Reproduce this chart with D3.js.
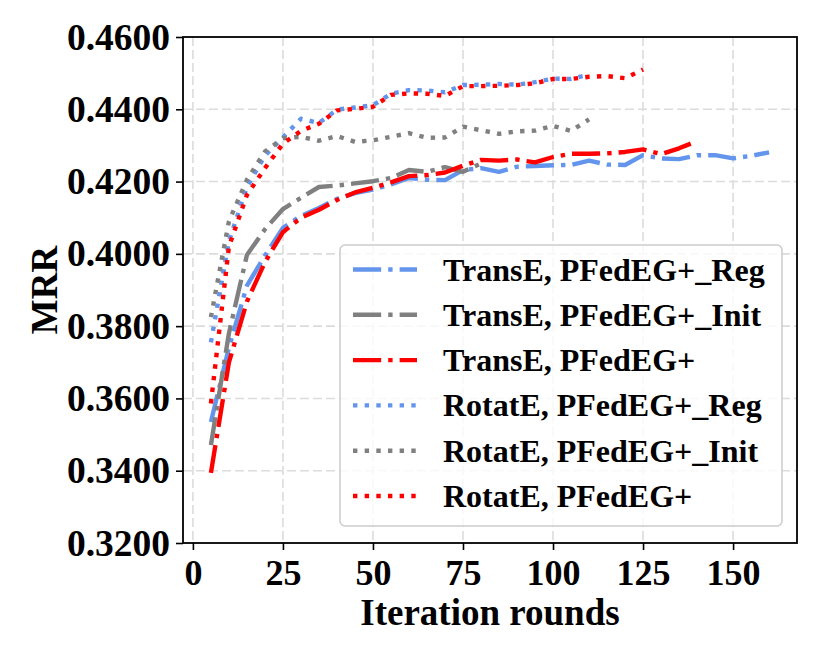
<!DOCTYPE html>
<html>
<head>
<meta charset="utf-8">
<script src="https://cdn.jsdelivr.net/npm/d3@7"></script>
<style>
  body { margin: 0; background: #fff; }
  text { font-family: "Liberation Serif", "Times New Roman", serif; font-weight: bold; fill: #000; }
</style>
</head>
<body>
<div id="d3-container"></div>
<script>
// iteration rounds (x values)
const rounds = [5, 10, 15, 20, 25, 30, 35, 40, 45, 50, 55, 60, 65, 70, 75, 80,
  85, 90, 95, 100, 105, 110, 115, 120, 125, 130, 135, 140, 145, 150, 155, 160];

const transeReg = [0.3535, 0.3740, 0.3912, 0.3995, 0.4072, 0.4105, 0.4127, 0.4152, 0.4168, 0.4178,
  0.4192, 0.4210, 0.4205, 0.4204, 0.4232, 0.4237, 0.4227, 0.4241, 0.4243, 0.4245, 0.4246, 0.4258,
  0.4247, 0.4246, 0.4273, 0.4264, 0.4262, 0.4273, 0.4273, 0.4264, 0.4271, 0.4281];
const transeInit = [0.3471, 0.3780, 0.3997, 0.4068, 0.4124, 0.4155, 0.4185, 0.4189, 0.4195, 0.4201,
  0.4210, 0.4232, 0.4227, 0.4240, 0.4227, 0.4250];
const transeOurs = [0.3394, 0.3700, 0.3868, 0.3977, 0.4060, 0.4100, 0.4122, 0.4149, 0.4170, 0.4183,
  0.4198, 0.4215, 0.4218, 0.4225, 0.4244, 0.4260, 0.4258, 0.4261, 0.4253, 0.4268, 0.4277, 0.4277,
  0.4278, 0.4282, 0.4289, 0.4276, 0.4292, 0.4312];
const rotateReg = [0.3755, 0.4035, 0.4185, 0.4272, 0.4322, 0.4374, 0.4362, 0.4399, 0.4405, 0.4411,
  0.4443, 0.4453, 0.4452, 0.4447, 0.4467, 0.4468, 0.4470, 0.4468, 0.4475, 0.4485, 0.4484, 0.4496];
const rotateInit = [0.3825, 0.4090, 0.4205, 0.4283, 0.4320, 0.4324, 0.4313, 0.4326, 0.4310, 0.4314,
  0.4324, 0.4334, 0.4321, 0.4322, 0.4352, 0.4342, 0.4332, 0.4339, 0.4341, 0.4354, 0.4340, 0.4372];
const rotateOurs = [0.3586, 0.4020, 0.4163, 0.4237, 0.4305, 0.4340, 0.4360, 0.4397, 0.4401, 0.4407,
  0.4440, 0.4444, 0.4443, 0.4437, 0.4464, 0.4464, 0.4465, 0.4467, 0.4472, 0.4484, 0.4484, 0.4490,
  0.4492, 0.4486, 0.4510];

const names = ["TransE, PFedEG+_Reg", "TransE, PFedEG+_Init", "TransE, PFedEG+",
  "RotatE, PFedEG+_Reg", "RotatE, PFedEG+_Init", "RotatE, PFedEG+"];
const xTicks = [0, 25, 50, 75, 100, 125, 150];
const yTicks = [0.32, 0.34, 0.36, 0.38, 0.40, 0.42, 0.44, 0.46];

const lw = 4.4;
const dashDot = [6.4 * lw, 1.6 * lw, 1 * lw, 1.6 * lw].join(",");
const dotted = [1 * lw, 1.65 * lw].join(",");

const series = [
  {name: names[0], vals: transeReg, color: "cornflowerblue", dash: dashDot},
  {name: names[1], vals: transeInit, color: "gray", dash: dashDot},
  {name: names[2], vals: transeOurs, color: "red", dash: dashDot},
  {name: names[3], vals: rotateReg, color: "cornflowerblue", dash: dotted},
  {name: names[4], vals: rotateInit, color: "gray", dash: dotted},
  {name: names[5], vals: rotateOurs, color: "red", dash: dotted}
];

const width = 822;
const height = 658;
const margin = {top: 37, bottom: 115, left: 183, right: 25};

const svg = d3.select('#d3-container')
  .append('svg')
  .attr('width', width)
  .attr('height', height);

const x = d3.scaleLinear()
  .domain([-2.75, 167.75])
  .range([margin.left, width - margin.right]);

const y = d3.scaleLinear()
  .domain([0.32, 0.46])
  .range([height - margin.bottom, margin.top]);

// grid
const grid = svg.append("g")
  .attr("stroke", "#dcdcdc")
  .attr("stroke-width", 1.6)
  .attr("stroke-dasharray", "9,4");
grid.selectAll("line.v")
  .data(xTicks)
  .join("line")
  .attr("x1", d => x(d)).attr("x2", d => x(d))
  .attr("y1", margin.top).attr("y2", height - margin.bottom);
grid.selectAll("line.h")
  .data(yTicks.slice(1, -1))
  .join("line")
  .attr("x1", margin.left).attr("x2", width - margin.right)
  .attr("y1", d => y(d)).attr("y2", d => y(d));

// lines
const line = d3.line()
  .x((d, i) => x(rounds[i]))
  .y(d => y(d));

svg.append("g")
  .selectAll("path")
  .data(series)
  .join("path")
  .attr("d", d => line(d.vals))
  .attr("fill", "none")
  .attr("stroke", d => d.color)
  .attr("stroke-width", lw)
  .attr("stroke-dasharray", d => d.dash)
  .attr("stroke-linejoin", "round");

// frame
svg.append("rect")
  .attr("x", margin.left)
  .attr("y", margin.top)
  .attr("width", width - margin.left - margin.right)
  .attr("height", height - margin.top - margin.bottom)
  .attr("fill", "none")
  .attr("stroke", "#000")
  .attr("stroke-width", 1.8);

function xAxis(g) {
  g.attr("transform", `translate(0,${height - margin.bottom})`)
    .call(d3.axisBottom(x).tickValues(xTicks).tickSize(7).tickPadding(9).tickFormat(d3.format("d")))
    .call(g => g.select(".domain").remove())
    .call(g => g.selectAll(".tick line").attr("stroke-width", 1.6))
    .call(g => g.selectAll("text").attr("font-size", "36px").attr("fill", "#000"));
}

function yAxis(g) {
  g.attr("transform", `translate(${margin.left},0)`)
    .call(d3.axisLeft(y).tickValues(yTicks).tickSize(7).tickPadding(6).tickFormat(d3.format(".4f")))
    .call(g => g.select(".domain").remove())
    .call(g => g.selectAll(".tick line").attr("stroke-width", 1.6))
    .call(g => g.selectAll("text").attr("font-size", "37.5px").attr("fill", "#000"));
}

svg.append("g").call(xAxis);
svg.append("g").call(yAxis);

svg.append("text")
  .attr("transform", `translate(57,${(margin.top + height - margin.bottom) / 2}) rotate(-90)`)
  .attr("text-anchor", "middle")
  .attr("font-size", "37px")
  .text("MRR");

svg.append("text")
  .attr("x", (margin.left + width - margin.right) / 2)
  .attr("y", 625)
  .attr("text-anchor", "middle")
  .attr("font-size", "37px")
  .text("Iteration rounds");

// legend
const leg = svg.append("g");
leg.append("rect")
  .attr("x", 340).attr("y", 245)
  .attr("width", 442).attr("height", 281)
  .attr("rx", 5)
  .attr("fill", "#fff").attr("fill-opacity", 0.8)
  .attr("stroke", "#cccccc").attr("stroke-width", 1.5);

const items = leg.selectAll("g.item")
  .data(series)
  .join("g")
  .attr("transform", (d, i) => `translate(0,${269.5 + i * 45.3})`);
items.append("line")
  .attr("x1", 353).attr("x2", 417)
  .attr("stroke", d => d.color)
  .attr("stroke-width", lw)
  .attr("stroke-dasharray", d => d.dash);
items.append("text")
  .attr("x", 443)
  .attr("y", 11)
  .attr("font-size", "32px")
  .text(d => d.name);
</script>
</body>
</html>
